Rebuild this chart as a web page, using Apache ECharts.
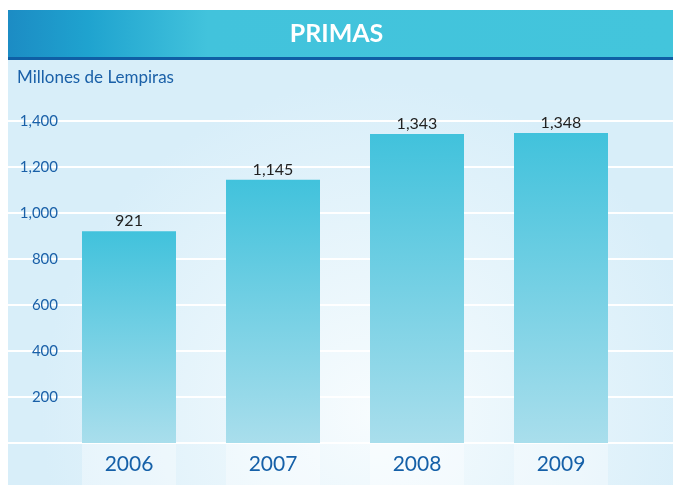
<!DOCTYPE html>
<html>
<head>
<meta charset="utf-8">
<script src="https://cdn.jsdelivr.net/npm/echarts@6/dist/echarts.min.js"></script>
<style>
  html, body { margin: 0; padding: 0; background: #fff; }
  #main { width: 673px; height: 485px; }
</style>
</head>
<body>
<div id="main"></div>
<script>
var years = ['2006', '2007', '2008', '2009'];
var primas = [921, 1145, 1343, 1348];
var yTicks = [0, 200, 400, 600, 800, 1000, 1200, 1400];

var font = 'Lato';
var chart = echarts.init(document.getElementById('main'));

function fmt(v) {
    if (v === 0) return '';
    return v.toLocaleString('en-US');
}

var option = {
    backgroundColor: '#ffffff',
    textStyle: { fontFamily: font },
    graphic: [
        // fondo del panel
        {
            type: 'rect', z: -10, silent: true,
            shape: { x: 8, y: 10, width: 665, height: 475 },
            style: {
                fill: new echarts.graphic.RadialGradient(0.55, 0.85, 0.7, [
                    { offset: 0, color: '#f7fcfe' },
                    { offset: 1, color: '#d8eef9' }
                ])
            }
        },
        // banda del titulo
        {
            type: 'rect', z: -5, silent: true,
            shape: { x: 8, y: 10, width: 665, height: 48 },
            style: {
                fill: new echarts.graphic.LinearGradient(0, 0, 1, 0, [
                    { offset: 0, color: '#1c8cc4' },
                    { offset: 0.12, color: '#1fa3cf' },
                    { offset: 0.3, color: '#42c3dc' },
                    { offset: 1, color: '#43c5dc' }
                ])
            }
        },
        {
            type: 'rect', z: -5, silent: true,
            shape: { x: 8, y: 57, width: 665, height: 3 },
            style: { fill: '#0f5fa5' }
        },
        {
            type: 'text', left: 'center', top: 21,
            style: { text: 'PRIMAS', fill: '#ffffff', font: 'bold 25px ' + font }
        },
        {
            type: 'text', left: 17, top: 69,
            style: { text: 'Millones de Lempiras', fill: '#1a60a8', font: '17px ' + font }
        }
    ],
    grid: [
        { left: 57, right: 40, top: 121, bottom: 42 },
        { left: 8, right: 0, top: 121, bottom: 42 }
    ],
    xAxis: [
        {
            type: 'category', gridIndex: 0, data: years,
            axisLine: { show: false }, axisTick: { show: false },
            axisLabel: {
                margin: 0,
                formatter: function (v) { return '{y|' + v + '}'; },
                rich: {
                    y: {
                        width: 94, height: 42, align: 'center', verticalAlign: 'middle',
                        fontSize: 21, color: '#1560a8', fontFamily: font,
                        backgroundColor: 'rgba(255,255,255,0.35)'
                    }
                }
            }
        },
        { type: 'category', gridIndex: 1, data: years, show: false }
    ],
    yAxis: [
        {
            type: 'value', gridIndex: 0, min: 0, max: 1400, interval: 200,
            axisLine: { show: false }, axisTick: { show: false },
            splitLine: { show: false },
            axisLabel: {
                margin: -1, fontSize: 15, color: '#1a60a8', fontFamily: font,
                formatter: fmt
            }
        },
        {
            type: 'value', gridIndex: 1, min: yTicks[0], max: yTicks[yTicks.length - 1], interval: 200,
            axisLine: { show: false }, axisTick: { show: false }, axisLabel: { show: false },
            splitLine: { lineStyle: { color: '#ffffff', width: 2 } }
        }
    ],
    series: [{
        type: 'bar',
        xAxisIndex: 0, yAxisIndex: 0,
        data: primas,
        barWidth: 94,
        itemStyle: {
            color: new echarts.graphic.LinearGradient(0, 0, 0, 1, [
                { offset: 0, color: '#41c2dc' },
                { offset: 1, color: '#a9deec' }
            ])
        },
        label: {
            show: true, position: 'top', distance: 2,
            fontSize: 16, color: '#222222', fontFamily: font,
            formatter: function (p) { return p.value.toLocaleString('en-US'); }
        },
        z: 3
    }]
};

chart.setOption(option);
</script>
</body>
</html>
